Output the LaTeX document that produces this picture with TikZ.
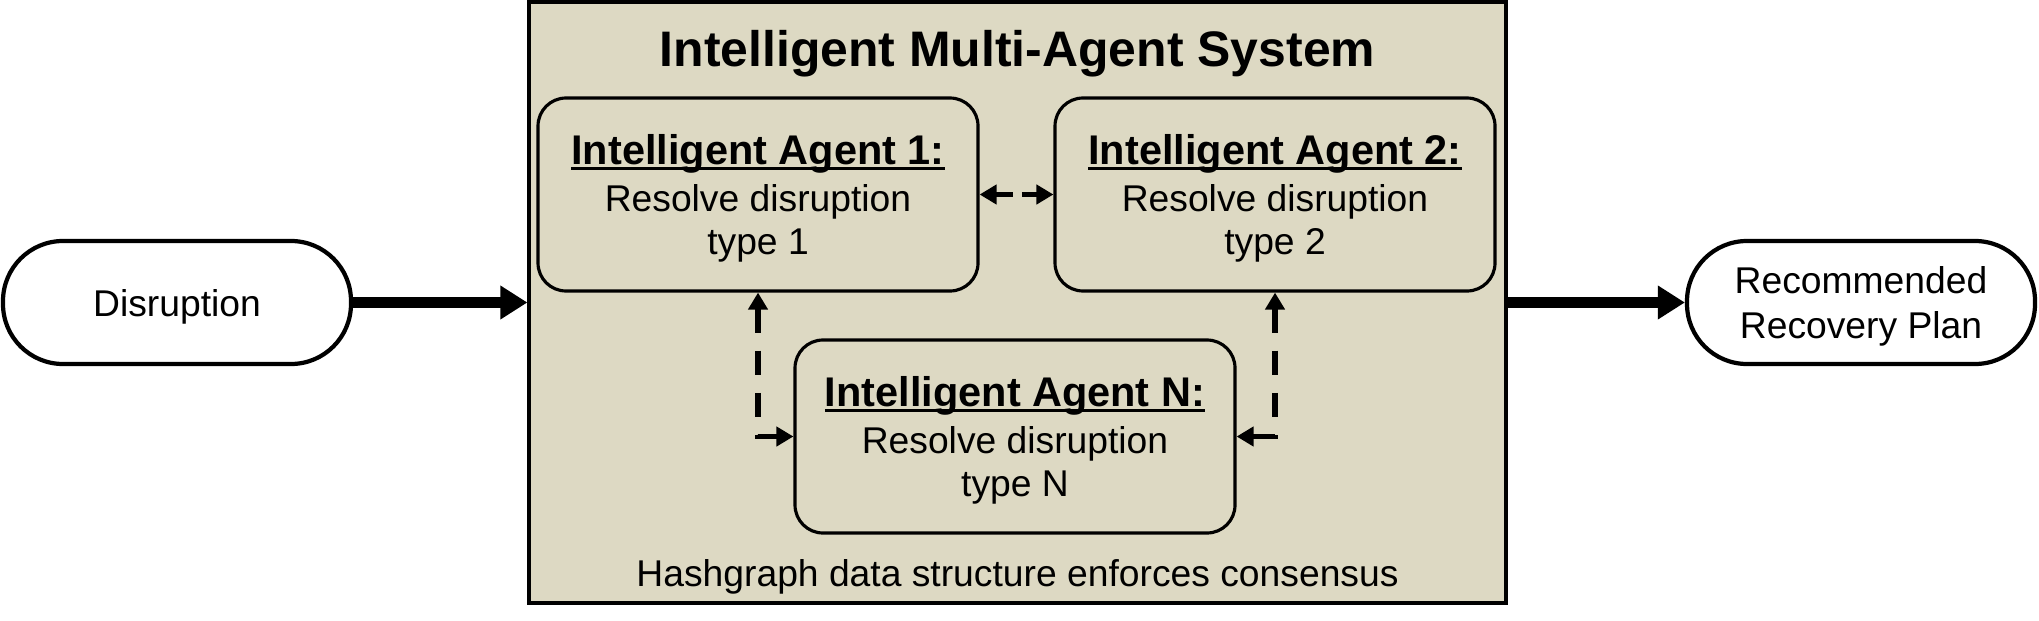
\documentclass[tikz,border=0pt]{standalone}
\usepackage{fontspec}
\setmainfont{Liberation Sans}
\usetikzlibrary{positioning,arrows.meta}

\definecolor{panel}{HTML}{DDD9C3}
% bold heading with a close underline
\newcommand{\agenthead}[1]{{\fontsize{11.8}{13}\selectfont\bfseries\setbox0\hbox{#1}\rlap{\rule[-1.5pt]{\wd0}{0.8pt}}\box0}}

\begin{document}
\begin{tikzpicture}[font=\fontsize{10.6}{12.2}\selectfont,
  agent/.style={draw,line width=0.9pt,rounded corners=0.28cm,fill=panel,minimum width=4.4cm,minimum height=1.93cm,align=center,text depth=-0.03cm},
  ends/.style={draw,line width=1.2pt,rounded corners=0.6cm,fill=white,minimum width=3.48cm,minimum height=1.23cm,align=center,text depth=0pt},
  flow/.style={line width=3pt,-{Triangle[length=0.27cm,width=0.32cm]}},
  link/.style={line width=1.6pt,dash pattern=on 7pt off 5pt,{Triangle[length=0.17cm,width=0.19cm]}-{Triangle[length=0.17cm,width=0.19cm]}}]
  \useasboundingbox (0,0) rectangle (20.39,6.2);

  \node[draw,line width=0.9pt,fill=panel,minimum width=9.77cm,minimum height=6.01cm] (sys) at (10.175,3.175) {};
  \node[font=\fontsize{14.2}{16}\selectfont\bfseries,anchor=base] (title) at ([yshift=-.66cm]sys.north) {Intelligent Multi-Agent System};
  \node[anchor=base] (hash) at ([yshift=.18cm]sys.south) {Hashgraph data structure enforces consensus};

  \foreach \k/\x in {1/7.58,2/12.75}{
    \node[agent] (a\k) at (\x,4.255) {\agenthead{Intelligent Agent \k:}\\[1.2pt]Resolve disruption\\type \k};
  }
  \node[agent] (aN) at (10.15,1.835) {\agenthead{Intelligent Agent N:}\\[1.2pt]Resolve disruption\\type N};

  \draw[link,dash pattern=on 5pt off 2.5pt] (a1) -- (a2);
  \draw[link] (a1) |- (aN);
  \draw[link] (a2) |- (aN);

  \node[ends] (dis) at (1.77,3.175) {Disruption};
  \node[ends,font=\fontsize{10.6}{13}\selectfont] (plan) at (18.61,3.175) {Recommended\\Recovery Plan};

  \draw[flow] (dis) -- (sys);
  \draw[flow] (sys) -- (plan);
\end{tikzpicture}
\end{document}
